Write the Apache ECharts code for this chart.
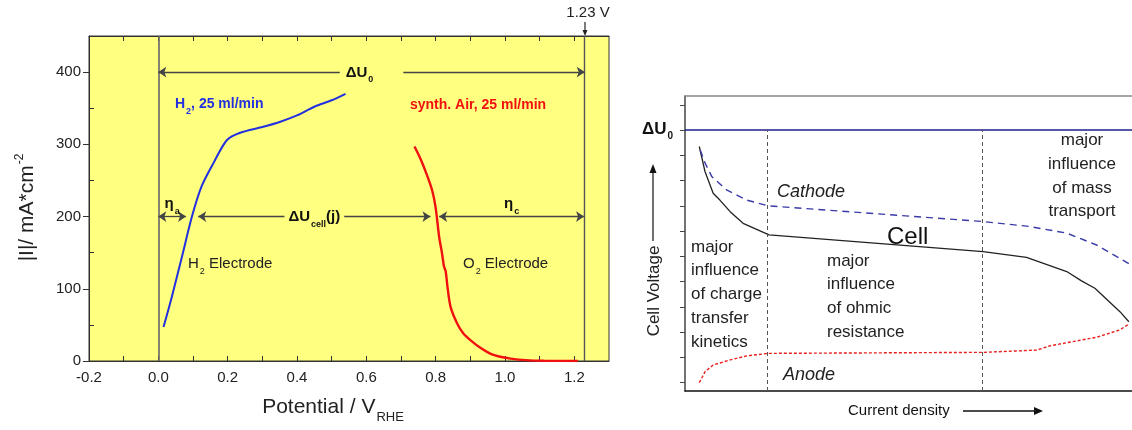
<!DOCTYPE html>
<html>
<head>
<meta charset="utf-8">
<script src="https://cdn.jsdelivr.net/npm/echarts@6/dist/echarts.min.js"></script>
<style>
  html, body { margin: 0; padding: 0; background: #fff; }
  #main { width: 1132px; height: 430px; }
</style>
</head>
<body>
<div id="main"></div>
<script>
// ---- left panel: half cell polarisation ----
const h2Potential = [0.015, 0.039, 0.068, 0.097, 0.125, 0.159, 0.198, 0.236, 0.30, 0.35, 0.40, 0.45, 0.50, 0.54];
const h2Current   = [47, 89, 144, 200, 242, 274, 306, 316, 324, 331, 340, 352, 361, 370];
const airPotential = [0.739, 0.758, 0.776, 0.79, 0.80, 0.81, 0.818, 0.824, 0.829, 0.834, 0.843, 0.862, 0.88, 0.90, 0.93, 0.959, 0.99, 1.016, 1.06, 1.113, 1.21];
const airCurrent   = [297, 278, 256, 236, 212, 172, 150, 131, 124, 103, 75, 52, 38, 29, 18, 10, 5.5, 3.3, 1.2, 0.3, 0];
const electrodeLines = [0, 1.23];      // vertical reference lines (V)
const deltaU0Span = [0, 1.23];         // at 400 mA/cm2
const etaASpan = [0, 0.08];            // at 200 mA/cm2
const cellSpan = [0.115, 0.785];
const etaCSpan = [0.81, 1.228];
const potentialTicks = [-0.2, -0.1, 0, 0.1, 0.2, 0.3, 0.4, 0.5, 0.6, 0.7, 0.8, 0.9, 1.0, 1.1, 1.2];
const leftMinorTicks = [50, 150, 250, 350];

// ---- right panel: schematic cell voltage vs current density ----
const cellJ = [3.2, 4.47, 6.3, 7.8, 10.1, 13.0, 18.8, 66.7, 76.4, 85.4, 88.7, 91.7, 97.3, 99.3];
const cellU = [9.68, 8.69, 7.83, 7.56, 7.1, 6.64, 6.18, 5.52, 5.29, 4.73, 4.36, 4.07, 3.14, 2.74];
const cathodeJ = [3.4, 4.5, 6.0, 9.3, 13.8, 18.6, 66.7, 77.2, 85.4, 92.1, 100];
const cathodeU = [9.54, 9.02, 8.49, 7.96, 7.56, 7.33, 6.71, 6.51, 6.25, 5.78, 4.97];
const anodeJ = [3.2, 4.5, 6.3, 10.1, 13.8, 18.6, 66.7, 78.7, 81.7, 92.1, 97.3, 99.3];
const anodeU = [0.33, 0.77, 1.03, 1.23, 1.39, 1.49, 1.53, 1.62, 1.79, 2.13, 2.42, 2.65];
const regionBounds = [18.5, 66.6];
const deltaU0 = 10.33;
const voltageTicks = [0.33, 1.33, 2.33, 3.33, 4.33, 5.33, 6.33, 7.33, 8.33, 9.33, 10.33, 11.33];

const FONT = "'Liberation Sans', Arial, sans-serif";
const YELLOW = '#FFFF80';

function pairs(xs, ys) { return xs.map((x, i) => [x, ys[i]]); }
function arrowSpan(range, y, label) {
  return [
    Object.assign({coord: [range[0], y], symbol: 'arrow'}, label ? {label: label} : {}),
    {coord: [range[1], y], symbol: 'arrow'}
  ];
}
const subRich = {
  b: {fontSize: 15, fontWeight: 'bold', color: '#111', fontFamily: FONT, lineHeight: 16, verticalAlign: 'top'},
  s: {fontSize: 9, fontWeight: 'bold', color: '#111', fontFamily: FONT, lineHeight: 9, verticalAlign: 'top', padding: [10, 0, 0, 1]}
};

let chart = echarts.init(document.getElementById('main'), null, {renderer: 'canvas'});

let option = {
  animation: false,
  textStyle: {fontFamily: FONT},
  grid: [
    {left: 89, top: 36, width: 520, height: 325, show: true, backgroundColor: YELLOW, borderColor: '#333', borderWidth: 1},
    {left: 685, top: 96, width: 447, height: 295, show: false}
  ],
  xAxis: [
    {
      gridIndex: 0, type: 'value', min: -0.2, max: 1.3, interval: 0.2, position: 'bottom',
      axisLine: {onZero: false, lineStyle: {color: '#333'}},
      axisTick: {inside: true, length: 5, customValues: potentialTicks, lineStyle: {color: '#333'}},
      splitLine: {show: false},
      axisLabel: {fontSize: 15, color: '#222', margin: 9, showMaxLabel: false, formatter: v => v.toFixed(1)},
      name: '{t|Potential / V}{s|RHE}', nameLocation: 'middle', nameGap: 36,
      nameTextStyle: {
        padding: [0, 32, 0, 0],
        rich: {
          t: {fontSize: 21, color: '#222', lineHeight: 24, verticalAlign: 'top'},
          s: {fontSize: 13, color: '#222', lineHeight: 13, verticalAlign: 'top', padding: [14, 0, 0, 1]}
        }
      }
    },
    {
      gridIndex: 0, type: 'value', min: -0.2, max: 1.3, interval: 0.2, position: 'top',
      axisLine: {onZero: false, lineStyle: {color: '#333'}},
      axisTick: {inside: true, length: 5, customValues: potentialTicks, lineStyle: {color: '#333'}},
      splitLine: {show: false}, axisLabel: {show: false}
    },
    {
      gridIndex: 1, type: 'value', min: 0, max: 100, position: 'bottom',
      axisLine: {onZero: false, lineStyle: {color: '#111', width: 1.5}},
      axisTick: {show: false}, axisLabel: {show: false}, splitLine: {show: false}
    },
    {
      gridIndex: 1, type: 'value', min: 0, max: 100, position: 'top',
      axisLine: {onZero: false, lineStyle: {color: '#888', width: 1.5}},
      axisTick: {show: false}, axisLabel: {show: false}, splitLine: {show: false}
    }
  ],
  yAxis: [
    {
      gridIndex: 0, type: 'value', min: 0, max: 450, interval: 100, position: 'left',
      axisLine: {onZero: false, lineStyle: {color: '#333'}},
      axisTick: {length: 6, lineStyle: {color: '#333'}},
      splitLine: {show: false},
      axisLabel: {fontSize: 15, color: '#222', margin: 8, showMaxLabel: false},
      name: '{t||I|/ mA*cm}{p|-2}', nameLocation: 'middle', nameGap: 51,
      nameTextStyle: {
        padding: [0, 18, 0, 0],
        rich: {
          t: {fontSize: 21, color: '#222', lineHeight: 24, verticalAlign: 'bottom'},
          p: {fontSize: 12, color: '#222', lineHeight: 12, verticalAlign: 'top', padding: [0, 0, 11, 1]}
        }
      }
    },
    {
      gridIndex: 0, type: 'value', min: 0, max: 450, interval: 100, position: 'left',
      axisLine: {show: false, onZero: false},
      axisTick: {show: true, inside: true, length: 5, customValues: leftMinorTicks, lineStyle: {color: '#333'}},
      splitLine: {show: false}, axisLabel: {show: false}
    },
    {
      gridIndex: 1, type: 'value', min: 0, max: 11.68, position: 'left',
      axisLine: {onZero: false, lineStyle: {color: '#444', width: 1.5}},
      axisTick: {show: true, length: 5, customValues: voltageTicks, lineStyle: {color: '#444'}},
      splitLine: {show: false},
      axisLabel: {
        show: true, customValues: [deltaU0], margin: 12,
        formatter: () => '{b|\u0394U}{s|0}',
        rich: {
          b: {fontSize: 17, fontWeight: 'bold', color: '#111', lineHeight: 18, verticalAlign: 'top'},
          s: {fontSize: 10, fontWeight: 'bold', color: '#111', lineHeight: 10, verticalAlign: 'top', padding: [10, 0, 0, 1]}
        }
      }
    }
  ],
  series: [
    {
      name: 'H2', type: 'line', xAxisIndex: 0, yAxisIndex: 0,
      data: pairs(h2Potential, h2Current), smooth: 0.3, showSymbol: false,
      lineStyle: {color: '#2230e0', width: 2},
      z: 5,
      markLine: {
        silent: true, symbol: 'none', symbolSize: 8, animation: false,
        lineStyle: {color: '#444', width: 1.3, type: 'solid'},
        label: {show: false},
        data: [
          {xAxis: electrodeLines[0], lineStyle: {color: '#666', width: 1.6}},
          {xAxis: electrodeLines[1], lineStyle: {color: '#555', width: 1.4}},
          arrowSpan(deltaU0Span, 400, {
            show: true, position: 'middle', distance: 0, verticalAlign: 'middle',
            backgroundColor: YELLOW, padding: [2, 30, 0, 6],
            formatter: '{b|\u0394U}{s|0}', rich: subRich
          }),
          arrowSpan(etaASpan, 200, {
            show: true, position: 'insideMiddleTop', distance: 4,
            formatter: '{b|\u03b7}{s|a}', rich: subRich
          }),
          arrowSpan(cellSpan, 200, {
            show: true, position: 'middle', distance: 0, verticalAlign: 'middle',
            backgroundColor: YELLOW, padding: [2, 4, 0, 4],
            formatter: '{b|\u0394U}{s|cell}{b|(j)}', rich: subRich
          }),
          arrowSpan(etaCSpan, 200, {
            show: true, position: 'insideMiddleTop', distance: 4,
            formatter: '{b|\u03b7}{s|c}', rich: subRich
          })
        ]
      }
    },
    {
      name: 'synth. Air', type: 'line', xAxisIndex: 0, yAxisIndex: 0,
      data: pairs(airPotential, airCurrent), smooth: 0.3, showSymbol: false,
      lineStyle: {color: '#f01010', width: 2.4},
      z: 5
    },
    {
      name: 'Cell', type: 'line', xAxisIndex: 2, yAxisIndex: 2,
      data: pairs(cellJ, cellU), showSymbol: false,
      lineStyle: {color: '#222', width: 1.3},
      markLine: {
        silent: true, symbol: 'none', animation: false,
        label: {show: false},
        data: [
          {yAxis: deltaU0, lineStyle: {color: '#1f1f8a', width: 1.5, type: 'solid'}},
          [{coord: [regionBounds[0], 0], lineStyle: {color: '#555', width: 1, type: [4, 3]}}, {coord: [regionBounds[0], deltaU0]}],
          [{coord: [regionBounds[1], 0], lineStyle: {color: '#555', width: 1, type: [4, 3]}}, {coord: [regionBounds[1], deltaU0]}]
        ]
      }
    },
    {
      name: 'Cathode', type: 'line', xAxisIndex: 2, yAxisIndex: 2,
      data: pairs(cathodeJ, cathodeU), showSymbol: false,
      lineStyle: {color: '#3a3aa8', width: 1.4, type: [7, 5]}
    },
    {
      name: 'Anode', type: 'line', xAxisIndex: 2, yAxisIndex: 2,
      data: pairs(anodeJ, anodeU), showSymbol: false,
      lineStyle: {color: '#e82020', width: 1.4, type: [3, 2]}
    }
  ],
  graphic: [
    // left panel annotations
    {type: 'text', x: 588, y: 13, style: {text: '1.23 V', font: '15px ' + FONT, fill: '#222', textAlign: 'center', textVerticalAlign: 'middle'}},
    {type: 'line', shape: {x1: 585, y1: 22, x2: 585, y2: 31}, style: {stroke: '#222', lineWidth: 1.2}},
    {type: 'polygon', shape: {points: [[585, 36], [582.5, 30], [587.5, 30]]}, style: {fill: '#222'}},
    {type: 'text', x: 175, y: 105, style: {
      text: '{c|H}{s|2}{c|, 25 ml/min}', textVerticalAlign: 'middle',
      rich: {
        c: {font: 'bold 14px ' + FONT, fill: '#2230e0', lineHeight: 16, verticalAlign: 'top'},
        s: {font: 'bold 9px ' + FONT, fill: '#2230e0', lineHeight: 9, verticalAlign: 'top', padding: [10, 0, 0, 1]}
      }}},
    {type: 'text', x: 410, y: 105, style: {text: 'synth. Air, 25 ml/min', font: 'bold 14px ' + FONT, fill: '#f01010', textVerticalAlign: 'middle'}},
    {type: 'text', x: 188, y: 265, style: {
      text: '{c|H}{s|2}{c| Electrode}', textVerticalAlign: 'middle',
      rich: {
        c: {font: '15px ' + FONT, fill: '#222', lineHeight: 17, verticalAlign: 'top'},
        s: {font: '9px ' + FONT, fill: '#222', lineHeight: 9, verticalAlign: 'top', padding: [11, 0, 0, 1]}
      }}},
    {type: 'text', x: 463, y: 265, style: {
      text: '{c|O}{s|2}{c| Electrode}', textVerticalAlign: 'middle',
      rich: {
        c: {font: '15px ' + FONT, fill: '#222', lineHeight: 17, verticalAlign: 'top'},
        s: {font: '9px ' + FONT, fill: '#222', lineHeight: 9, verticalAlign: 'top', padding: [11, 0, 0, 1]}
      }}},
    // right panel annotations
    {type: 'text', x: 777, y: 192, style: {text: 'Cathode', font: 'italic 18px ' + FONT, fill: '#222', textVerticalAlign: 'middle'}},
    {type: 'text', x: 887, y: 237, style: {text: 'Cell', font: '24px ' + FONT, fill: '#111', textVerticalAlign: 'middle'}},
    {type: 'text', x: 783, y: 375, style: {text: 'Anode', font: 'italic 18px ' + FONT, fill: '#222', textVerticalAlign: 'middle'}},
    {type: 'text', x: 691, y: 235, style: {text: 'major\ninfluence\nof charge\ntransfer\nkinetics', font: '17px ' + FONT, fill: '#222', lineHeight: 23.8}},
    {type: 'text', x: 827, y: 249, style: {text: 'major\ninfluence\nof ohmic\nresistance', font: '17px ' + FONT, fill: '#222', lineHeight: 23.8}},
    {type: 'text', x: 1082, y: 129, style: {text: 'major\ninfluence\nof mass\ntransport', font: '17px ' + FONT, fill: '#222', lineHeight: 23.6, textAlign: 'center'}},
    {type: 'text', x: 848, y: 411, style: {text: 'Current density', font: '15px ' + FONT, fill: '#111', textVerticalAlign: 'middle'}},
    {type: 'line', shape: {x1: 963, y1: 411, x2: 1036, y2: 411}, style: {stroke: '#111', lineWidth: 1.6}},
    {type: 'polygon', shape: {points: [[1043, 411], [1034, 407], [1034, 415]]}, style: {fill: '#111'}},
    {type: 'text', x: 654, y: 291, rotation: Math.PI / 2, style: {text: 'Cell Voltage', font: '17px ' + FONT, fill: '#222', textAlign: 'center', textVerticalAlign: 'middle'}},
    {type: 'line', shape: {x1: 653, y1: 241, x2: 653, y2: 171}, style: {stroke: '#111', lineWidth: 1.2}},
    {type: 'polygon', shape: {points: [[653, 164], [649.5, 173], [656.5, 173]]}, style: {fill: '#111'}}
  ]
};

chart.setOption(option);
window.addEventListener('resize', () => { chart.resize(); });
</script>
</body>
</html>
